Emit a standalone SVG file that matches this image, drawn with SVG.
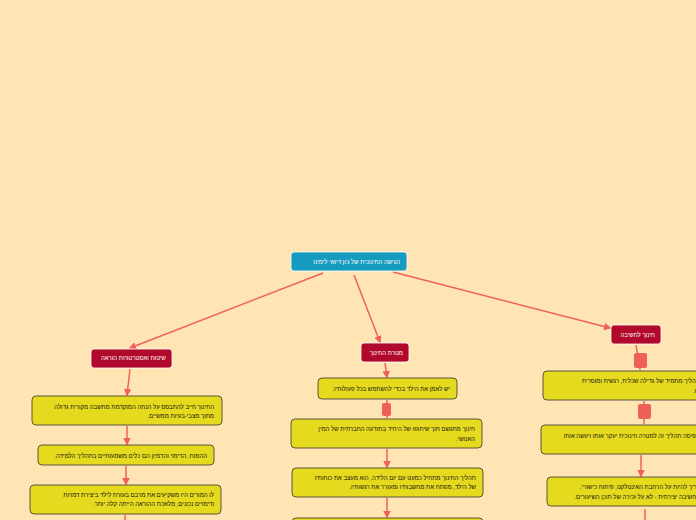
<svg xmlns="http://www.w3.org/2000/svg" width="696" height="520" viewBox="0 0 696 520">
<style>
.t{font-family:"Liberation Sans","DejaVu Sans",sans-serif;font-size:6px;direction:rtl;}
.w{fill:#fff;}
.k{fill:#111;}
.y{fill:#e6da1e;stroke:#333;stroke-width:0.8;}
.r{fill:#b0092b;stroke:#fff;stroke-width:0.8;}
.c{stroke:#f0605a;stroke-width:1.5;fill:none;}
.s{fill:#f0605a;}
</style>
<defs><marker id="a" viewBox="0 0 10 10" refX="8" refY="5" markerWidth="5" markerHeight="5" orient="auto"><path d="M0,0L10,5L0,10z" fill="#f0605a"/></marker></defs>
<rect width="696" height="520" fill="#ffe5b4"/>
<g id="connectors">
<path class="c" d="M323,273L130,348" marker-end="url(#a)"/>
<path class="c" d="M354,275L380,342" marker-end="url(#a)"/>
<path class="c" d="M393,272L610,328" marker-end="url(#a)"/>
<path class="c" d="M130,369L127,395" marker-end="url(#a)"/>
<path class="c" d="M127,426L127,444" marker-end="url(#a)"/>
<path class="c" d="M126,466L126,484" marker-end="url(#a)"/>
<path class="c" d="M125,515L125,520"/>
<path class="c" d="M385,363L387,377" marker-end="url(#a)"/>
<path class="c" d="M387,400L387,418"/>
<path class="c" d="M387,449L387,467" marker-end="url(#a)"/>
<path class="c" d="M387,498L387,517" marker-end="url(#a)"/>
<path class="c" d="M636,345L640,370"/>
<path class="c" d="M644,401L644,424"/>
<path class="c" d="M641,455L641,476" marker-end="url(#a)"/>
<path class="c" d="M645,509L645,520"/>
<rect class="s" x="382" y="403" width="9" height="13" rx="2"/>
<rect class="s" x="634" y="353" width="13" height="15" rx="2"/>
<rect class="s" x="638" y="404" width="13" height="15" rx="2"/>
</g>
<g id="root"><rect x="291" y="252" width="116" height="19" rx="3" fill="#169bc0" stroke="#fff" stroke-width="0.8"/><text class="t w" x="400" y="264">הגישה החינוכית של ג'ון דיואי לימינו</text></g>
<g id="n-left"><rect class="r" x="91" y="349" width="81" height="19" rx="3"/><text class="t w" x="166" y="360">שיטות ואסטרטגיות הוראה</text></g>
<g id="n-mid"><rect class="r" x="361" y="343" width="48" height="19" rx="3"/><text class="t w" x="403" y="355">מטרת החינוך</text></g>
<g id="n-right"><rect class="r" x="611" y="325" width="50" height="19" rx="3"/><text class="t w" x="655" y="337">חינוך לחשיבה</text></g>
<g id="l1"><rect class="y" x="32" y="396" width="190" height="29" rx="4"/><text class="t k" x="214" y="409">החינוך חייב להתבסס על הנחה המוקדמת מחשבה מקורית גדולה</text><text class="t k" x="214" y="418">מתוך מצבי-בעיות ממשיים.</text></g>
<g id="l2"><rect class="y" x="38" y="445" width="176" height="20" rx="4"/><text class="t k" x="207" y="458">ההמות, הדימוי והדמיון הם כלים משמעותיים בתהליך הלמידה.</text></g>
<g id="l3"><rect class="y" x="30" y="485" width="191" height="29" rx="4"/><text class="t k" x="214" y="497">לו המורים היו משקיעים את מרבם בעזרת לילד ביצירת דמויות</text><text class="t k" x="214" y="506">ודימויים נכונים, מלאכת ההוראה הייתה קלה יותר.</text></g>
<g id="m1"><rect class="y" x="318" y="378" width="139" height="21" rx="4"/><text class="t k" x="450" y="391">יש לאמן את הילד בכדי להשתמש בכל פעולותיו.</text></g>
<g id="m2"><rect class="y" x="291" y="419" width="191" height="29" rx="4"/><text class="t k" x="475" y="431">חינוך מתגשם תוך שיתופו של היחיד בתודעה החברתית של המין</text><text class="t k" x="475" y="441">האנושי.</text></g>
<g id="m3"><rect class="y" x="292" y="468" width="191" height="29" rx="4"/><text class="t k" x="476" y="480">תהליך החינוך מתחיל כמעט עם יום הלידה, הוא מעצב את כוחותיו</text><text class="t k" x="476" y="489">של הילד, מפתח את מחשבותיו ומעורר את רגשותיו.</text></g>
<g id="m4"><rect class="y" x="292" y="518" width="191" height="12" rx="4"/></g>
<g id="r1"><rect class="y" x="543" y="371" width="170" height="29" rx="4"/><text class="t k" x="700" y="383">תהליך מתמיד של גדילה שכלית, רגשית ומוסרית</text><text class="t k" x="700" y="393">בו.</text></g>
<g id="r2"><rect class="y" x="541" y="425" width="170" height="29" rx="4"/><text class="t k" x="700" y="438">תפיסה תהליך זה למטרה חינוכית יעקר אותו ויעשה אותו</text></g>
<g id="r3"><rect class="y" x="547" y="477" width="170" height="29" rx="4"/><text class="t k" x="700" y="489">צריך להיות על הרחבת האינטלקט, פיתוח כישורי,</text><text class="t k" x="700" y="499">החשיבה יצירתית - לא על זכירה של תוכן השיעורים.</text></g>
</svg>
